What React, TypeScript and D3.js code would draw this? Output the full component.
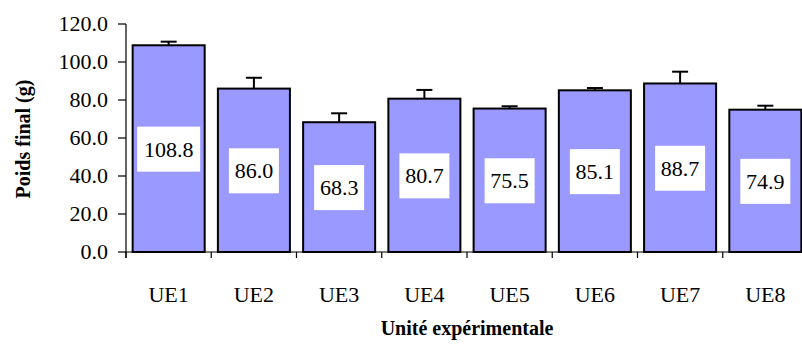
import React from 'react';
import * as d3 from 'd3';

const categories = ['UE1', 'UE2', 'UE3', 'UE4', 'UE5', 'UE6', 'UE7', 'UE8'];
const poidsFinal = [108.8, 86.0, 68.3, 80.7, 75.5, 85.1, 88.7, 74.9];
const erreurs = [1.9, 5.7, 4.7, 4.6, 1.2, 1.2, 6.2, 2.1];
const yTicks = [0, 20, 40, 60, 80, 100, 120];

const FONT = "'Liberation Serif', 'DejaVu Serif', serif";

const App = () => {
  const margin = { top: 24, left: 126 };
  const plotW = 682;
  const plotH = 228;

  const x = d3.scaleBand().domain(categories).range([0, plotW]).paddingInner(0.155).paddingOuter(0.078);
  const xTicksScale = d3.scaleBand().domain(categories).range([0, plotW]);
  const y = d3.scaleLinear().domain([0, 120]).range([plotH, 0]);

  return (
    <svg width={802} height={345} fontFamily={FONT} style={{ position: 'absolute', left: 0, top: 0 }}>
      <rect width={802} height={345} fill="#fff" />
      <g transform={`translate(${margin.left},${margin.top})`}>
        {/* barres */}
        {categories.map((c, i) => {
          const bx = x(c)!;
          const bw = x.bandwidth();
          const v = poidsFinal[i];
          const cx = bx + bw / 2;
          const label = v.toFixed(1);
          const boxW = label.length > 4 ? 63 : 50;
          return (
            <g key={c}>
              <line x1={cx} x2={cx} y1={y(v)} y2={y(v + erreurs[i])} stroke="#000" strokeWidth={2} />
              <line x1={cx - 8} x2={cx + 8} y1={y(v + erreurs[i])} y2={y(v + erreurs[i])} stroke="#000" strokeWidth={2} />
              <rect x={bx} y={y(v)} width={bw} height={y(0) - y(v)} fill="#9999FF" stroke="#000" strokeWidth={2} />
              <rect x={cx - boxW / 2} y={y(v / 2) - 22} width={boxW} height={45} fill="#fff" />
              <text x={cx} y={y(v / 2) + 8} textAnchor="middle" fontSize={22} fill="#000">{label}</text>
            </g>
          );
        })}
        {/* axe Y */}
        <line x1={0} x2={0} y1={0} y2={plotH + 6} stroke="#000" strokeWidth={1.2} />
        {yTicks.map(t => (
          <g key={t}>
            <line x1={-8} x2={0} y1={y(t)} y2={y(t)} stroke="#000" strokeWidth={1.2} />
            <text x={-18} y={y(t) + 7} textAnchor="end" fontSize={22} fill="#000">{t.toFixed(1)}</text>
          </g>
        ))}
        {/* axe X */}
        <line x1={0} x2={plotW} y1={plotH} y2={plotH} stroke="#000" strokeWidth={1.2} />
        {categories.map(c => (
          <line key={c} x1={xTicksScale(c)!} x2={xTicksScale(c)!} y1={plotH} y2={plotH + 6} stroke="#000" strokeWidth={1.2} />
        ))}
        {categories.map(c => (
          <text key={c} x={xTicksScale(c)! + xTicksScale.bandwidth() / 2} y={plotH + 50} textAnchor="middle" fontSize={22} fill="#000">{c}</text>
        ))}
        <text x={plotW / 2} y={plotH + 83} textAnchor="middle" fontSize={20} fontWeight="bold" fill="#000">Unité expérimentale</text>
      </g>
      <text transform="translate(30,139) rotate(-90)" textAnchor="middle" fontSize={20} fontWeight="bold" fill="#000">Poids final (g)</text>
    </svg>
  );
};

export default App;
